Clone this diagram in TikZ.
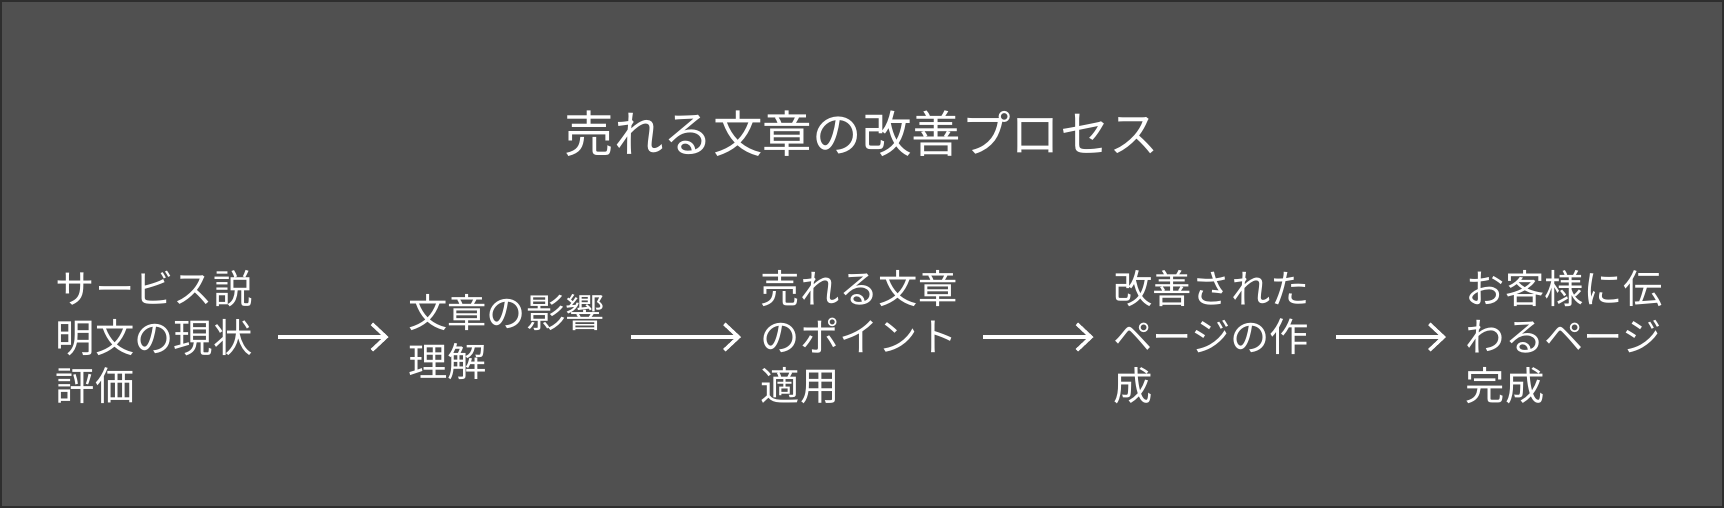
\documentclass[tikz,border=0pt]{standalone}
\usepackage{fontspec}
\newfontfamily\cjk{Noto Sans CJK JP}
\usetikzlibrary{arrows.meta}
\definecolor{bggray}{HTML}{505050}
\definecolor{framegray}{HTML}{2E2E2E}
\tikzset{
  stage/.style={anchor=west,inner sep=0pt,text width=2cm,align=left,text=white,
    font=\cjk\fontsize{11.2pt}{13.8pt}\selectfont},
  flow/.style={white,line width=1pt,-{Straight Barb[length=4pt,width=7.5pt]},
    shorten <=0.22cm,shorten >=0.19cm}
}
\begin{document}
\begin{tikzpicture}
\fill[bggray](0,0) rectangle (17.24,5.08);
\draw[framegray,line width=0.6pt](0.01,0.01) rectangle (17.23,5.07);
\useasboundingbox(0,0) rectangle (17.24,5.08);
\node[text=white,inner sep=0pt,font=\cjk\fontsize{14.1pt}{17pt}\selectfont] (title) at (8.62,3.74) {売れる文章の改善プロセス};
\node[stage] (s1) at (0.55,1.71) {サービス説\\明文の現状\\評価};
\node[stage] (s2) at (4.075,1.71) {文章の影響\\理解};
\node[stage] (s3) at (7.6,1.71) {売れる文章\\のポイント\\適用};
\node[stage] (s4) at (11.125,1.71) {改善された\\ページの作\\成};
\node[stage] (s5) at (14.65,1.71) {お客様に伝\\わるページ\\完成};
\draw[flow](s1)--(s2);
\draw[flow](s2)--(s3);
\draw[flow](s3)--(s4);
\draw[flow](s4)--(s5);
\end{tikzpicture}
\end{document}
